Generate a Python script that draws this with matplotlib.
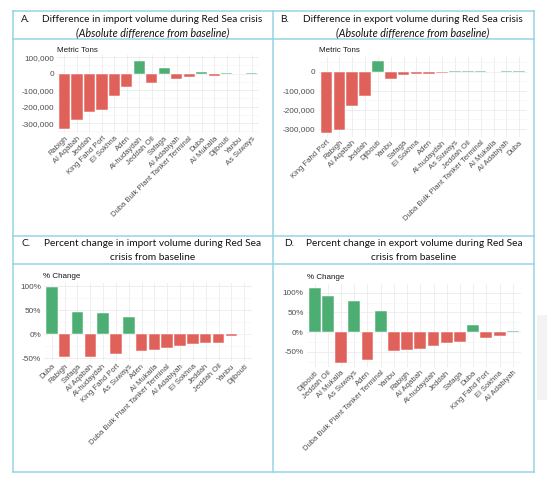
import matplotlib
matplotlib.use("Agg")
import matplotlib.pyplot as plt
from matplotlib.lines import Line2D
from matplotlib.patches import Rectangle
from matplotlib.ticker import FuncFormatter, MultipleLocator

# ---------------- data ----------------
a_ports = ["Rabigh", "Al Aqabah", "Jeddah", "King Fahd Port", "El Sokhna", "Aden",
           "Al-hudaydah", "Jeddah Oil", "Safaga", "Al Adabiyah",
           "Duba Bulk Plant Tanker Terminal", "Duba", "Al Mukalla", "Djibouti",
           "Yanbu", "As Suways"]
a_values = [-338000, -284000, -234000, -218000, -138000, -84000, 78000, -58000,
            32000, -34000, -20000, 10000, -12000, 3000, -3000, 2000]

b_ports = ["King Fahd Port", "Rabigh", "Al Aqabah", "Jeddah", "Djibouti", "Yanbu",
           "Safaga", "El Sokhna", "Aden", "Al-hudaydah", "As Suways", "Jeddah Oil",
           "Duba Bulk Plant Tanker Terminal", "Al Mukalla", "Al Adabiyah", "Duba"]
b_values = [-325000, -309000, -181000, -128000, 56000, -37000, -19000, -14000,
            -12000, -9000, 3000, 2000, 2000, -3000, 1000, 1000]

c_ports = ["Duba", "Rabigh", "Safaga", "Al Aqabah", "Al-hudaydah", "King Fahd Port",
           "As Suways", "Aden", "Al Mukalla", "Duba Bulk Plant Tanker Terminal",
           "Al Adabiyah", "El Sokhna", "Jeddah", "Jeddah Oil", "Yanbu", "Djibouti"]
c_values = [99, -47, 46, -47, 45, -40, 37, -34, -33, -28, -25, -20, -17, -17, -3, 1]

d_ports = ["Djibouti", "Jeddah Oil", "Al Mukalla", "As Suways", "Aden",
           "Duba Bulk Plant Tanker Terminal", "Yanbu", "Rabigh", "Al Aqabah",
           "Al-hudaydah", "Jeddah", "Safaga", "Duba", "King Fahd Port", "El Sokhna",
           "Al Adabiyah"]
d_values = [113, 92, -80, 79, -70, 54, -47, -46, -42, -35, -29, -25, 19, -16, -9, 2]

titles = {
    "A": ["Difference in import volume during Red Sea crisis",
          "(Absolute difference from baseline)"],
    "B": ["Difference in export volume during Red Sea crisis",
          "(Absolute difference from baseline)"],
    "C": ["Percent change in import volume during Red Sea",
          "crisis from baseline"],
    "D": ["Percent change in export volume during Red Sea",
          "crisis from baseline"],
}

# ---------------- style ----------------
W, H = 547, 484
DPI = 100
RED = "#E0605A"
GREEN = "#4DAE74"
LINE = "#94D5E3"
TXT = "#4D4D4D"
TICK_FONT = "Liberation Sans"
TITLE_FONT = "Lato"

fig = plt.figure(figsize=(W / DPI, H / DPI), dpi=DPI)
fig.patch.set_facecolor("white")


def fx(x):
    return x / W


def fy(y):
    return 1 - y / H


# faint background element at right
fig.patches.append(Rectangle((fx(537), fy(400)), fx(20), (400 - 315) / H,
                             transform=fig.transFigure, facecolor="#F3F3F3",
                             edgecolor="none", zorder=0))

# table lines
for y in [11, 39, 236, 264, 472]:
    fig.add_artist(Line2D([fx(13), fx(534)], [fy(y), fy(y)], color=LINE, lw=1.1,
                          transform=fig.transFigure))
for x in [13, 273, 534]:
    fig.add_artist(Line2D([fx(x), fx(x)], [fy(11), fy(472)], color=LINE, lw=1.1,
                          transform=fig.transFigure))

# titles
title_size = 7.25
hdr = {
    "A": dict(lx=21, cx=152.5, y1=19.5, y2=33, italic=True),
    "B": dict(lx=280, cx=413, y1=19.5, y2=33, italic=True),
    "C": dict(lx=21, cx=152.5, y1=244, y2=258, italic=False),
    "D": dict(lx=284, cx=414, y1=244, y2=258, italic=False),
}
for k, h in hdr.items():
    fig.text(fx(h["lx"]), fy(h["y1"]), k + ".", fontsize=title_size,
             family=TITLE_FONT, ha="left", va="center", color="#111111")
    fig.text(fx(h["cx"]), fy(h["y1"]), titles[k][0], fontsize=title_size,
             family=TITLE_FONT, ha="center", va="center", color="#111111")
    fig.text(fx(h["cx"]), fy(h["y2"]), titles[k][1],
             fontsize=7.7 if h["italic"] else title_size,
             family=TITLE_FONT, ha="center", va="center", color="#111111",
             style="italic" if h["italic"] else "normal")


def thousands(v, pos):
    return f"{int(round(v)):,}"


def percent(v, pos):
    return f"{int(round(v))}%"


def panel(box, ports, values, ylim, major, fmt, ylabel, label_xy):
    l, t, r, b = box
    ax = fig.add_axes([fx(l), fy(b), (r - l) / W, (b - t) / H])
    x = list(range(len(ports)))
    colors = [GREEN if v > 0 else RED for v in values]
    ax.bar(x, values, width=0.9, color=colors, edgecolor="white", linewidth=0.35,
           zorder=3)
    ax.set_xlim(-0.6, len(ports) - 0.4)
    ax.set_ylim(*ylim)
    ax.yaxis.set_major_locator(MultipleLocator(major))
    ax.yaxis.set_minor_locator(MultipleLocator(major / 2))
    ax.yaxis.set_major_formatter(FuncFormatter(fmt))
    ax.set_xticks(x)
    ax.set_xticklabels(ports, rotation=45, ha="right", va="top",
                       rotation_mode="anchor", fontsize=5.5, family=TICK_FONT,
                       color=TXT)
    for lab in ax.get_yticklabels():
        lab.set_fontsize(5.9)
        lab.set_family(TICK_FONT)
        lab.set_color(TXT)
    ax.tick_params(axis="both", which="both", length=0)
    ax.tick_params(axis="y", pad=2.2)
    ax.tick_params(axis="x", pad=1.5)
    ax.grid(True, which="major", color="#EBEBEB", lw=0.6, zorder=0)
    ax.grid(True, which="minor", axis="y", color="#F4F4F4", lw=0.4, zorder=0)
    for s in ax.spines.values():
        s.set_visible(False)
    ax.set_facecolor("none")
    fig.text(fx(label_xy[0]), fy(label_xy[1]), ylabel, fontsize=5.8,
             family=TICK_FONT, ha="left", va="center", color="#1a1a1a")
    return ax


panel((57, 55.4, 259, 133), a_ports, a_values, (-360000, 110000), 100000,
      thousands, "Metric Tons", (57, 50.7))
panel((318.8, 57.4, 526.9, 137.1), b_ports, b_values, (-344000, 75000), 100000,
      thousands, "Metric Tons", (319, 51))
panel((44.1, 282.8, 251.9, 360.8), c_ports, c_values, (-55, 107), 50,
      percent, "% Change", (43, 277))
panel((306.7, 283.7, 520.7, 367.4), d_ports, d_values, (-90, 123), 50,
      percent, "% Change", (307, 277.3))

fig.savefig("out.png", dpi=DPI, facecolor="white")
